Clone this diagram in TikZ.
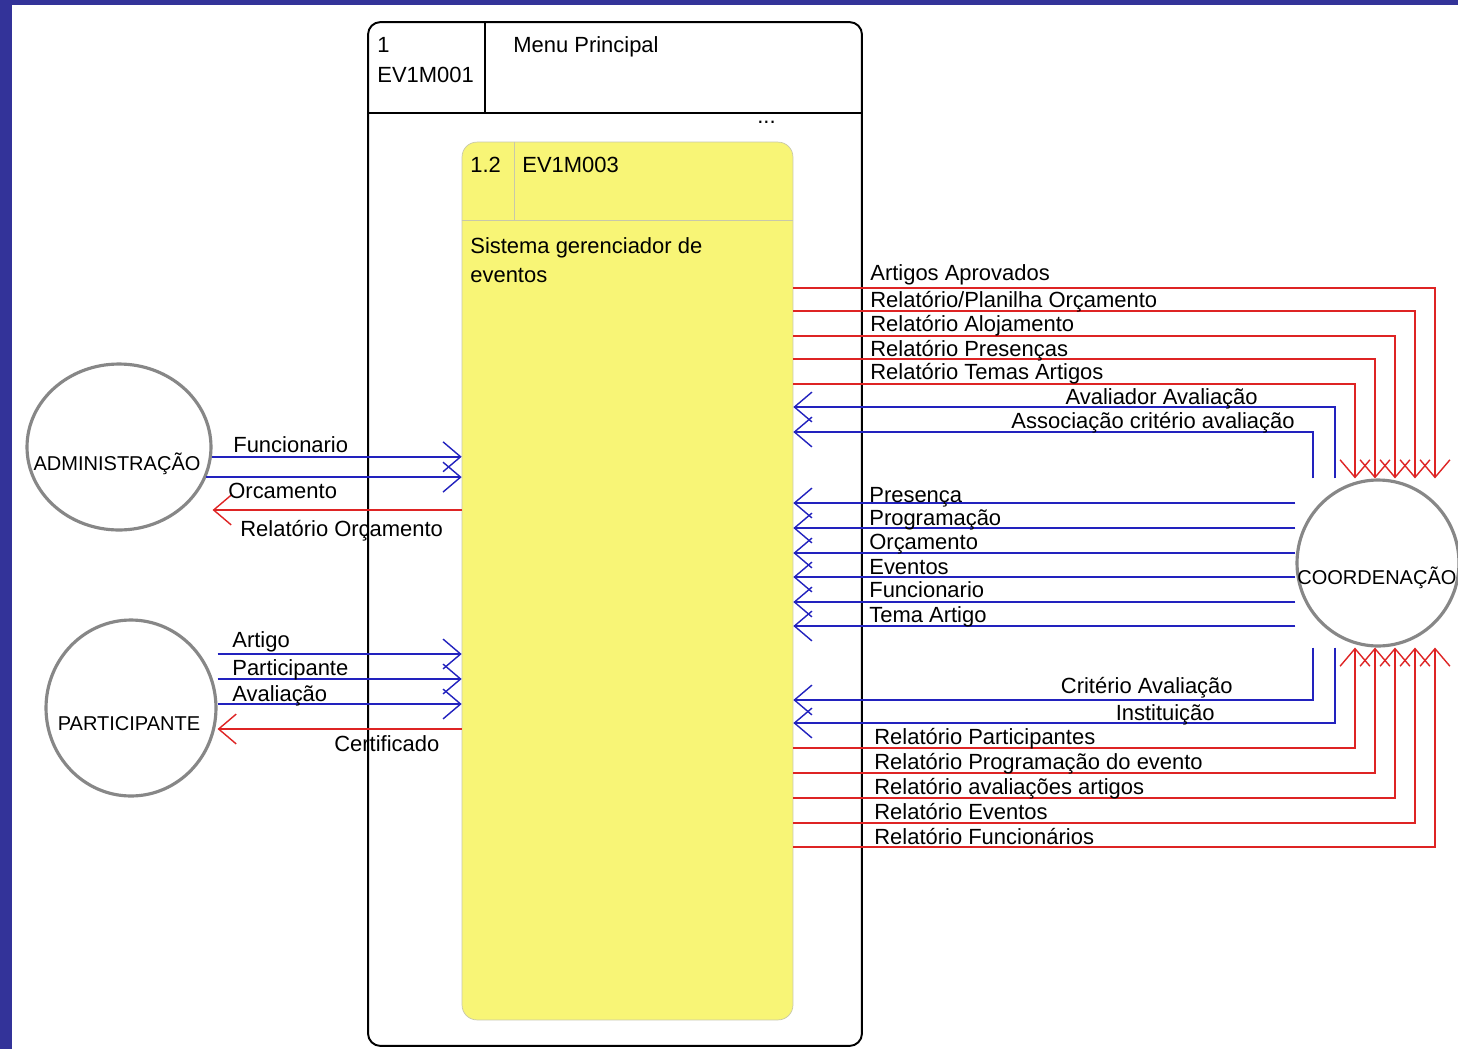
\documentclass[tikz,border=0pt]{standalone}
\usepackage{fontspec}
\setmainfont{Liberation Sans}
\usetikzlibrary{arrows.meta,shapes.geometric}
\definecolor{frameblue}{RGB}{51,51,153}
\definecolor{flowblue}{RGB}{34,34,190}
\definecolor{flowred}{RGB}{222,36,36}
\definecolor{procyellow}{RGB}{248,245,118}
\definecolor{procedge}{RGB}{200,200,170}
\definecolor{entgray}{RGB}{135,135,135}
\begin{document}
\begin{tikzpicture}[x=0.02cm,y=-0.02cm,font=\fontsize{12.5}{17}\selectfont,
  lbl/.style={inner sep=0pt,anchor=base west},
  rlbl/.style={inner sep=0pt,anchor=base east},
  entname/.style={inner sep=0pt,anchor=base,font=\fontsize{11.4}{14}\selectfont},
  entity/.style={ellipse,draw=entgray,line width=1.8pt,inner sep=0pt},
  inflow/.style={draw=flowblue,line width=1.1pt,-{Straight Barb[length=10pt,width=17pt,line width=0.8pt]}},
  outflow/.style={draw=flowred,line width=1.1pt,-{Straight Barb[length=10pt,width=17pt,line width=0.8pt]}}]
\clip (0,0) rectangle (1458,1049);
\fill[white] (0,0) rectangle (1458,1049);
\fill[frameblue] (0,0) rectangle (1458,5);
\fill[frameblue] (0,0) rectangle (12,1049);
\node[draw,line width=1.1pt,rounded corners=7pt,minimum width=9.88cm,minimum height=20.48cm,inner sep=0pt] (menu) at (615,534) {};
\draw[line width=1.1pt] (menu.west |- 0,113) -- (menu.east |- 0,113);
\draw[line width=1.1pt] (485,0 |- menu.north) -- (485,113);
\node[lbl] (mnum) at (377,52) {1};
\node[lbl] (mid) at (377,82) {EV1M001};
\node[lbl] (mname) at (513,52) {Menu Principal};
\node[lbl] (mdots) at (757,123) {...};
\node[draw=procedge,fill=procyellow,rounded corners=8.5pt,minimum width=6.62cm,minimum height=17.56cm,inner sep=0pt] (proc) at (627.5,581) {};
\draw[procedge] (proc.west |- 0,220) -- (proc.east |- 0,220);
\draw[procedge] (514,0 |- proc.north) -- (514,220);
\node[lbl] (pnum) at (470,172) {1.2};
\node[lbl] (pid) at (522,172) {EV1M003};
\node[lbl] (pname) at (470,253) {Sistema gerenciador de};
\node[lbl] (pname2) at (470,282) {eventos};
\node[entity,minimum width=3.68cm,minimum height=3.32cm] (adm) at (119,447) {};
\node[entname] (admt) at (117,470) {ADMINISTRAÇÃO};
\node[entity,minimum width=3.4cm,minimum height=3.52cm] (part) at (131,708) {};
\node[entname] (partt) at (129,730) {PARTICIPANTE};
\node[entity,minimum width=3.24cm,minimum height=3.32cm] (coord) at (1378,563) {};
\node[entname,anchor=base west] (coordt) at (1297,584) {COORDENAÇÃO};
\draw[inflow] (adm.-6) -- (proc.west |- adm.-6);
\draw[inflow] (adm.-19) -- (proc.west |- adm.-19);
\draw[outflow] (proc.west |- 0,510) -- (adm.east |- 0,510);
\node[lbl] (lfunc) at (233,452) {Funcionario};
\node[lbl] (lorc) at (228,498) {Orcamento};
\node[lbl] (lrorc) at (240,536) {Relatório Orçamento};
\foreach \fy/\ty/\lab [count=\j] in {654/647/Artigo, 679/675/Participante, 704/701/Avaliação}{
  \draw[inflow] (part.east |- 0,\fy) -- (proc.west |- 0,\fy);
  \node[lbl] (lp\j) at (232,\ty) {\lab};
}
\draw[outflow] (proc.west |- 0,729) -- (part.east |- 0,729);
\node[lbl] (lcert) at (334,751) {Certificado};
\foreach \fy/\fx/\ty/\lab [count=\j] in {288/1435/280/Artigos Aprovados, 311/1415/307/{Relatório/Planilha Orçamento}, 336/1395/331/Relatório Alojamento, 359/1375/356/Relatório Presenças, 384/1355/379/Relatório Temas Artigos}{
  \draw[outflow] (proc.east |- 0,\fy) -| (\fx,0 |- coord.north);
  \node[lbl] (rt\j) at (870,\ty) {\lab};
}
\foreach \fy/\fx/\ty/\tx/\lab [count=\j] in {407/1335/404/1258/Avaliador Avaliação, 432/1313/428/1295/Associação critério avaliação}{
  \draw[inflow] (\fx,0 |- coord.north) |- (proc.east |- 0,\fy);
  \node[rlbl] (bt\j) at (\tx,\ty) {\lab};
}
\foreach \fy/\ty/\lab [count=\j] in {503/502/Presença, 528/525/Programação, 553/549/Orçamento, 577/574/Eventos, 602/597/Funcionario, 626/622/Tema Artigo}{
  \draw[inflow] (coord.west |- 0,\fy) -- (proc.east |- 0,\fy);
  \node[lbl] (bm\j) at (869,\ty) {\lab};
}
\foreach \fy/\fx/\ty/\tx/\lab [count=\j] in {700/1313/693/1233/Critério Avaliação, 723/1335/720/1215/Instituição}{
  \draw[inflow] (\fx,0 |- coord.south) |- (proc.east |- 0,\fy);
  \node[rlbl] (bb\j) at (\tx,\ty) {\lab};
}
\foreach \fy/\fx/\ty/\lab [count=\j] in {748/1355/744/Relatório Participantes, 773/1375/769/Relatório Programação do evento, 798/1395/794/Relatório avaliações artigos, 823/1415/819/Relatório Eventos, 847/1435/844/Relatório Funcionários}{
  \draw[outflow] (proc.east |- 0,\fy) -| (\fx,0 |- coord.south);
  \node[rlbl,anchor=base west] (rb\j) at (874,\ty) {\lab};
}
\end{tikzpicture}
\end{document}
